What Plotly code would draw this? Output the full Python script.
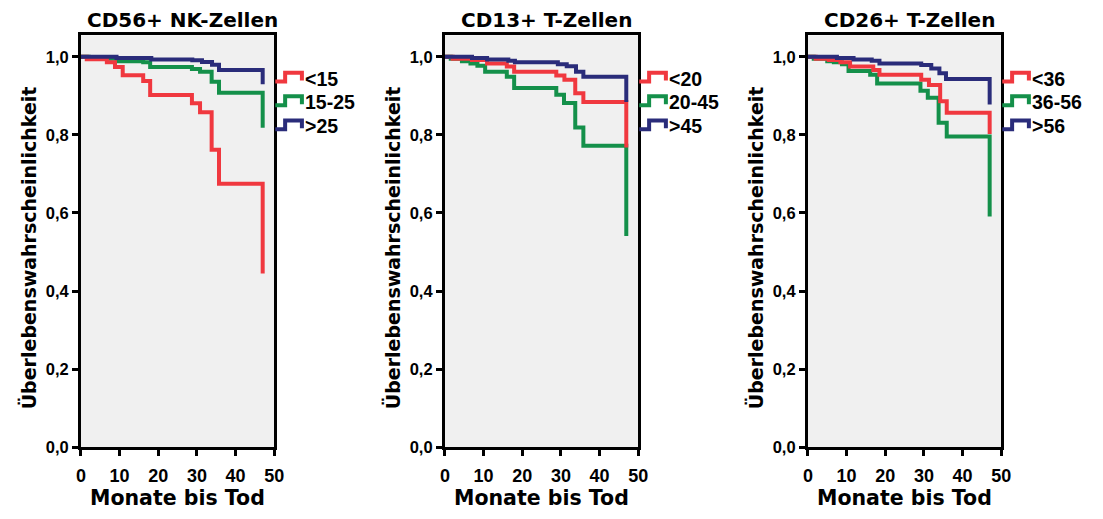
import plotly.graph_objects as go

# ---- data: Kaplan-Meier step curves (months, survival probability) ----
titles = ["CD56+ NK-Zellen", "CD13+ T-Zellen", "CD26+ T-Zellen"]
group_labels = [["<15", "15-25", ">25"], ["<20", "20-45", ">45"], ["<36", "36-56", ">56"]]

# panel 1: CD56+ NK cells
p1_low_t = [0, 1.5, 6.7, 8.8, 10.8, 16.1, 17.9, 28.7, 30.8, 33.8, 35.7, 47.0]
p1_low_s = [1.0, 0.994, 0.986, 0.974, 0.953, 0.938, 0.902, 0.881, 0.858, 0.762, 0.675, 0.445]
p1_mid_t = [0, 2.0, 9.5, 16.1, 17.9, 28.7, 30.8, 33.8, 35.7, 47.0]
p1_mid_s = [1.0, 0.995, 0.989, 0.986, 0.974, 0.969, 0.962, 0.936, 0.908, 0.818]
p1_high_t = [0, 9.2, 18.2, 28.8, 31.3, 33.9, 35.7, 47.0]
p1_high_s = [1.0, 0.997, 0.993, 0.991, 0.987, 0.980, 0.966, 0.930]

# panel 2: CD13+ T cells
p2_low_t = [0, 2.0, 7.0, 10.9, 16.0, 17.9, 28.8, 30.9, 33.7, 35.8, 46.9]
p2_low_s = [1.0, 0.995, 0.992, 0.983, 0.975, 0.962, 0.952, 0.941, 0.907, 0.884, 0.768]
p2_mid_t = [0, 1.5, 4.4, 6.6, 8.4, 10.4, 16.0, 17.9, 28.8, 30.8, 33.7, 35.8, 46.9]
p2_mid_s = [1.0, 0.995, 0.989, 0.983, 0.977, 0.962, 0.949, 0.920, 0.903, 0.882, 0.819, 0.772, 0.541]
p2_high_t = [0, 7.0, 10.9, 16.4, 18.1, 29.2, 31.5, 33.9, 35.8, 46.9]
p2_high_s = [1.0, 0.997, 0.993, 0.990, 0.986, 0.981, 0.976, 0.962, 0.949, 0.884]

# panel 3: CD26+ T cells
p3_low_t = [0, 2.0, 5.4, 8.4, 10.9, 16.9, 18.5, 29.3, 31.3, 34.2, 35.9, 47.0]
p3_low_s = [1.0, 0.995, 0.992, 0.986, 0.975, 0.966, 0.954, 0.941, 0.928, 0.886, 0.857, 0.802]
p3_mid_t = [0, 1.5, 5.0, 6.7, 8.8, 10.5, 16.1, 17.9, 29.1, 31.0, 33.8, 35.9, 47.0]
p3_mid_s = [1.0, 0.995, 0.989, 0.986, 0.981, 0.964, 0.954, 0.932, 0.913, 0.895, 0.831, 0.796, 0.591]
p3_high_t = [0, 7.5, 11.8, 16.5, 18.5, 29.3, 31.9, 34.0, 35.7, 47.0]
p3_high_s = [1.0, 0.997, 0.993, 0.990, 0.983, 0.979, 0.970, 0.958, 0.943, 0.878]

x_ticks = [0, 10, 20, 30, 40, 50]
y_ticks = [0.0, 0.2, 0.4, 0.6, 0.8, 1.0]
y_tick_labels = ["0,0", "0,2", "0,4", "0,6", "0,8", "1,0"]
x_title = "Monate bis Tod"
y_title = "Überlebenswahrscheinlichkeit"

# ---- styling ----
W, H = 1103, 519   # page size the layout fractions are worked out for
RED, GREEN, NAVY = "#f0383f", "#14904a", "#2a2c7a"
TITLE_FONT = "DejaVu Sans"      # wide face for titles
LABEL_FONT = "Liberation Sans"  # tick labels and group keys
panel_left_px = [77, 446, 814]
panel_width_px = 196
plot_top_px, plot_bottom_px = 36, 455

panels = [
    [(p1_low_t, p1_low_s), (p1_mid_t, p1_mid_s), (p1_high_t, p1_high_s)],
    [(p2_low_t, p2_low_s), (p2_mid_t, p2_mid_s), (p2_high_t, p2_high_s)],
    [(p3_low_t, p3_low_s), (p3_mid_t, p3_mid_s), (p3_high_t, p3_high_s)],
]
colors = [RED, GREEN, NAVY]
draw_order = [1, 0, 2]  # green below red below navy


def px_x(px):
    return px / W


def px_y(py):
    return 1 - py / H


fig = go.Figure()
layout = dict(
    autosize=True,
    margin=dict(l=0, r=0, t=0, b=0, pad=0),
    paper_bgcolor="white", plot_bgcolor="#f0f0f0",
    showlegend=False,
    font=dict(family=LABEL_FONT, color="black", weight="bold"),
    shapes=[], annotations=[],
)

ydom = [px_y(plot_bottom_px), px_y(plot_top_px)]

for i, series in enumerate(panels):
    n = i + 1
    xa, ya = f"x{n}", f"y{n}"
    left = panel_left_px[i]
    right = left + panel_width_px
    xdom = [px_x(left), px_x(right)]

    for k in draw_order:
        t, s = series[k]
        fig.add_trace(go.Scatter(
            x=t, y=s, mode="lines", line=dict(color=colors[k], width=4, shape="hv"),
            xaxis=xa, yaxis=ya, name=group_labels[i][k], hoverinfo="x+y+name",
        ))

    common = dict(showgrid=False, zeroline=False)
    layout[f"xaxis{n}"] = dict(
        domain=xdom, anchor=ya, range=[0, 50], tickvals=x_ticks,
        ticks="outside", ticklen=6, tickwidth=2.5, tickcolor="black",
        showline=True, linewidth=3, linecolor="black", mirror=True,
        ticklabelstandoff=4,
        tickfont=dict(family=LABEL_FONT, size=18, weight="bold"), **common,
    )
    layout[f"yaxis{n}"] = dict(
        domain=ydom, anchor=xa, range=[0, 1.055], tickvals=y_ticks, ticktext=y_tick_labels,
        ticks="outside", ticklen=6, tickwidth=2.5, tickcolor="black",
        showline=True, linewidth=3, linecolor="black", mirror=True,
        tickfont=dict(family=LABEL_FONT, size=16.5, weight="bold"), **common,
    )
    # inner half of the crossing tick marks
    layout[f"xaxis{n + 3}"] = dict(
        overlaying=xa, anchor=ya, range=[0, 50], tickvals=x_ticks,
        ticks="inside", ticklen=6, tickwidth=2.5, tickcolor="black",
        showticklabels=False, showline=False, **common,
    )
    layout[f"yaxis{n + 3}"] = dict(
        overlaying=ya, anchor=xa, range=[0, 1.055], tickvals=y_ticks,
        ticks="inside", ticklen=4, tickwidth=2.5, tickcolor="black",
        showticklabels=False, showline=False, **common,
    )

    cx = (left + right) / 2
    layout["annotations"] += [
        dict(text=titles[i], x=px_x(cx + 5), y=px_y(20), xref="paper", yref="paper",
             xanchor="center", yanchor="middle", showarrow=False,
             font=dict(family=TITLE_FONT, size=20, weight="bold")),
        dict(text=x_title, x=px_x(cx), y=px_y(507), xref="paper", yref="paper",
             xanchor="center", yanchor="middle", showarrow=False,
             font=dict(family=TITLE_FONT, size=20.5, weight="bold")),
        dict(text=y_title, x=px_x(left - 53), y=px_y(252), xref="paper", yref="paper",
             xanchor="center", yanchor="middle", showarrow=False, textangle=-90,
             font=dict(family=TITLE_FONT, size=19, weight="bold")),
    ]

    # step-shaped legend keys beside each panel
    for k, row_y in enumerate([78.5, 102.5, 127.0]):
        x0, x1, x2 = right + 1, right + 11, right + 28
        lo, hi = row_y + 4.5, row_y - 4.5
        path = (f"M {px_x(x0)},{px_y(lo)} H {px_x(x1)} V {px_y(hi)} "
                f"H {px_x(x2)} V {px_y(lo - 1)}")
        layout["shapes"].append(dict(
            type="path", path=path, xref="paper", yref="paper",
            line=dict(color=colors[k], width=4),
        ))
        layout["annotations"].append(dict(
            text=group_labels[i][k], x=px_x(right + 29), y=px_y(row_y + 1.5),
            xref="paper", yref="paper", xanchor="left", yanchor="middle",
            showarrow=False, font=dict(family=LABEL_FONT, size=19.5, weight="bold"),
        ))

fig.update_layout(**layout)
fig.write_html("out.html")
